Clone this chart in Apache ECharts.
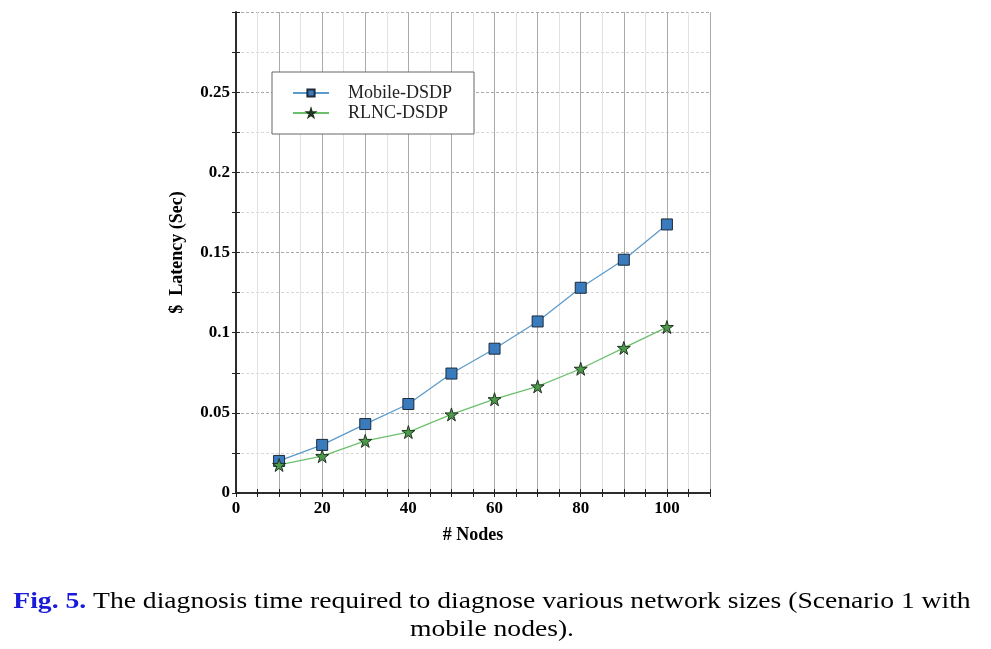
<!DOCTYPE html>
<html>
<head>
<meta charset="utf-8">
<script src="https://cdn.jsdelivr.net/npm/echarts@6/dist/echarts.min.js"></script>
<style>html,body{margin:0;padding:0;background:#fff;}#c{width:991px;height:649px;}</style>
</head>
<body>
<div id="c"></div>
<script>
const nodes = [10, 20, 30, 40, 50, 60, 70, 80, 90, 100];
const mobileDSDP = [0.020, 0.030, 0.043, 0.0555, 0.0745, 0.090, 0.107, 0.128, 0.1455, 0.1675];
const rlncDSDP = [0.0175, 0.023, 0.0325, 0.038, 0.049, 0.0585, 0.0665, 0.0775, 0.0905, 0.1035];
const seriesNames = ['Mobile-DSDP', 'RLNC-DSDP'];
const xLabelTicks = [0, 20, 40, 60, 80, 100];
const yLabelTicks = [0, 0.05, 0.1, 0.15, 0.2, 0.25];
const captionLead = 'Fig. 5.';
const captionLine1 = ' The diagnosis time required to diagnose various network sizes (Scenario 1 with';
const captionLine2 = 'mobile nodes).';

const star = 'path://M50,0 L61,35 L98,35 L68,57 L79,91 L50,70 L21,91 L32,57 L2,35 L39,35 Z';
const serif = '"Liberation Serif", "Times New Roman", serif';
const chart = echarts.init(document.getElementById('c'));
const near = (v, arr) => arr.some(t => Math.abs(t - v) < 1e-6);
const tickFont = { fontFamily: serif, fontWeight: 'bold', fontSize: 17, color: '#000' };
const nameFont = { fontFamily: serif, fontWeight: 'bold', fontSize: 18, color: '#000' };

chart.setOption({
  animation: false,
  grid: { left: 236, right: 281, top: 12, bottom: 156, containLabel: false },
  legend: {
    data: seriesNames,
    orient: 'vertical',
    left: 272, top: 72,
    padding: [12, 22, 12, 20],
    itemGap: 2,
    itemWidth: 36, itemHeight: 9,
    backgroundColor: '#fff',
    borderColor: '#666', borderWidth: 1,
    textStyle: { fontFamily: serif, fontSize: 18, color: '#222', padding: [0, 0, 0, 14], lineHeight: 18 }
  },
  xAxis: [{
    type: 'value', min: 0, max: 110, interval: 5,
    name: '# Nodes', nameLocation: 'middle', nameGap: 33,
    nameTextStyle: nameFont,
    axisLine: { show: true, lineStyle: { color: '#222', width: 1.5 } },
    axisTick: { show: true, inside: true, length: 4, lineStyle: { color: '#222' } },
    axisLabel: Object.assign({ margin: 7, formatter: v => near(v, xLabelTicks) ? String(v) : '' }, tickFont),
    splitLine: { show: true, lineStyle: { color: ['#aaa', '#e2e2e2'], width: 1, type: 'solid' } }
  }, {
    type: 'value', min: 0, max: 110, interval: 5, position: 'top',
    axisLine: { show: true, lineStyle: { color: '#222', width: 1.5 } },
    axisTick: { show: true, inside: true, length: 4, lineStyle: { color: '#222' } },
    axisLabel: { show: false }, splitLine: { show: false }
  }],
  yAxis: [{
    type: 'value', min: 0, max: 0.3, interval: 0.025,
    name: '$  Latency (Sec)', nameLocation: 'middle', nameGap: 50, nameRotate: 90,
    nameTextStyle: nameFont,
    axisLine: { show: true, lineStyle: { color: '#222', width: 1.5 } },
    axisTick: { show: true, inside: true, length: 4, lineStyle: { color: '#222' } },
    axisLabel: Object.assign({ margin: 6, formatter: v => near(v, yLabelTicks) ? String(parseFloat(v.toFixed(3))) : '' }, tickFont),
    splitLine: { show: true, lineStyle: { color: ['#aaa', '#d8d8d8'], width: 1, type: [3, 2] } }
  }, {
    type: 'value', min: 0, max: 0.3, interval: 0.025, position: 'right',
    axisLine: { show: true, lineStyle: { color: '#222', width: 1.5 } },
    axisTick: { show: true, inside: true, length: 4, lineStyle: { color: '#222' } },
    axisLabel: { show: false }, splitLine: { show: false }
  }],
  series: [{
    name: seriesNames[0], type: 'line',
    data: nodes.map((n, i) => [n, mobileDSDP[i]]),
    symbol: 'rect', symbolSize: 11,
    lineStyle: { color: '#5b9bcb', width: 1.3 },
    itemStyle: { color: '#3a7bbd', borderColor: '#1d2a3a', borderWidth: 1 },
    z: 3
  }, {
    name: seriesNames[1], type: 'line',
    data: nodes.map((n, i) => [n, rlncDSDP[i]]),
    symbol: star, symbolSize: 13,
    lineStyle: { color: '#6cc06c', width: 1.3 },
    itemStyle: { color: '#4a9a4a', borderColor: '#1f331f', borderWidth: 1 },
    z: 3
  }],
  graphic: [{
    type: 'text', x: 492, y: 590, scaleX: 1.15,
    style: {
      text: '{b|' + captionLead + '}' + captionLine1,
      font: '24px ' + serif, fill: '#000', textAlign: 'center',
      rich: { b: { fontFamily: serif, fontSize: 24, fontWeight: 'bold', fill: '#1a1ad8', color: '#1a1ad8' } }
    }
  }, {
    type: 'text', x: 492, y: 618, scaleX: 1.15,
    style: { text: captionLine2, font: '24px ' + serif, fill: '#000', textAlign: 'center' }
  }]
});
</script>
</body>
</html>
